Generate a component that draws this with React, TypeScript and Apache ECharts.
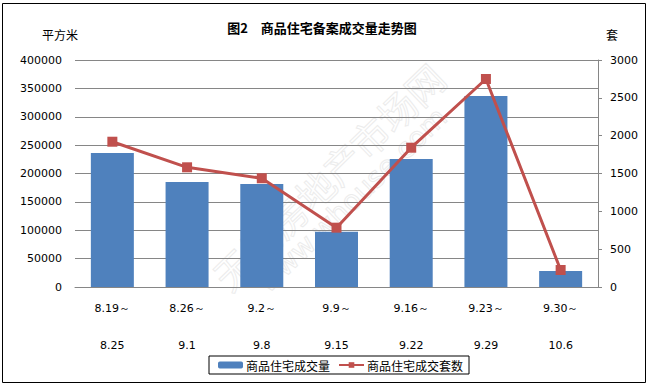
import React, { useEffect, useRef } from "react";
import * as echarts from "echarts";

const periodStarts = ["8.19～", "8.26～", "9.2～", "9.9～", "9.16～", "9.23～", "9.30～"];
const periodEnds = ["8.25", "9.1", "9.8", "9.15", "9.22", "9.29", "10.6"];
const areaValues = [236000, 185000, 181500, 97500, 225500, 336500, 28200];
const unitValues = [1920, 1582, 1437, 784, 1841, 2749, 225];
const leftTicks = { min: 0, max: 400000, interval: 50000 };
const rightTicks = { min: 0, max: 3000, interval: 500 };

const CJK = "'Noto Sans CJK SC', sans-serif";
const NUM = "'DejaVu Sans', sans-serif";

export default function App() {
  const ref = useRef<HTMLDivElement>(null);
  useEffect(() => {
    if (!ref.current) return;
    const chart = echarts.init(ref.current, undefined, { renderer: "svg" });
    const categories = periodStarts.map((s, i) => `${s}\n${periodEnds[i]}`);
    const plain = (v: number) => String(v);
    chart.setOption({
      animation: false,
      backgroundColor: "#ffffff",
      grid: { left: 75, right: 51, top: 60, bottom: 100 },
      graphic: [
        {
          type: "rect",
          shape: { x: 2.5, y: 3.5, width: 643, height: 379 },
          style: { fill: "none", stroke: "#000", lineWidth: 1 },
          silent: true,
        },
        {
          type: "text",
          x: 328,
          y: 176,
          rotation: (44 * Math.PI) / 180,
          style: {
            text: "无锡房地产市场网",
            font: `38px ${CJK}`,
            fill: "rgba(0,0,0,0)",
            stroke: "#ececec",
            lineWidth: 1,
            align: "center",
            verticalAlign: "middle",
          },
          z: -1,
          silent: true,
        },
        {
          type: "text",
          x: 352,
          y: 200,
          rotation: (44 * Math.PI) / 180,
          style: {
            text: "www.whouse.com",
            font: `28px ${NUM}`,
            fill: "rgba(0,0,0,0)",
            stroke: "#ececec",
            lineWidth: 1,
            align: "center",
            verticalAlign: "middle",
          },
          z: -1,
          silent: true,
        },
        {
          type: "text",
          x: 322,
          y: 27,
          style: {
            text: "图2　商品住宅备案成交量走势图",
            font: `bold 13px ${CJK}`,
            fill: "#000",
            align: "center",
            verticalAlign: "middle",
          },
        },
        {
          type: "text",
          x: 60,
          y: 34,
          style: {
            text: "平方米",
            font: `12px ${CJK}`,
            fill: "#000",
            align: "center",
            verticalAlign: "middle",
          },
        },
        {
          type: "text",
          x: 612,
          y: 34,
          style: {
            text: "套",
            font: `12px ${CJK}`,
            fill: "#000",
            align: "center",
            verticalAlign: "middle",
          },
        },
      ],
      legend: {
        left: 209,
        top: 356,
        width: 262,
        height: 20,
        padding: [3, 6, 3, 9],
        itemGap: 8,
        itemWidth: 25,
        itemHeight: 7,
        borderColor: "#000",
        borderWidth: 1,
        textStyle: { fontFamily: CJK, fontSize: 12, color: "#000", padding: [0, 0, 0, -2] },
        data: [{ name: "商品住宅成交量" }, { name: "商品住宅成交套数" }],
      },
      xAxis: {
        type: "category",
        data: categories,
        axisLine: { show: true, lineStyle: { color: "#868686", width: 1 } },
        axisTick: { show: false },
        axisLabel: {
          color: "#000",
          fontFamily: NUM,
          fontSize: 11,
          lineHeight: 37,
          margin: 3,
          interval: 0,
        },
      },
      yAxis: [
        {
          type: "value",
          min: leftTicks.min,
          max: leftTicks.max,
          interval: leftTicks.interval,
          axisLine: { show: false },
          axisTick: { show: false },
          splitLine: { show: true, lineStyle: { color: "#868686", width: 1 } },
          axisLabel: { color: "#000", fontFamily: NUM, fontSize: 11, margin: 13, formatter: plain },
        },
        {
          type: "value",
          min: rightTicks.min,
          max: rightTicks.max,
          interval: rightTicks.interval,
          position: "right",
          axisLine: { show: true, lineStyle: { color: "#868686", width: 1 } },
          axisTick: { show: true, inside: false, length: 4, lineStyle: { color: "#868686" } },
          splitLine: { show: false },
          axisLabel: { color: "#000", fontFamily: NUM, fontSize: 11, margin: 12, formatter: plain },
        },
      ],
      series: [
        {
          name: "商品住宅成交量",
          type: "bar",
          yAxisIndex: 0,
          data: areaValues,
          barWidth: 43,
          itemStyle: { color: "#4F81BD" },
        },
        {
          name: "商品住宅成交套数",
          type: "line",
          yAxisIndex: 1,
          data: unitValues,
          symbol: "rect",
          symbolSize: 10,
          lineStyle: { color: "#C0504D", width: 3 },
          itemStyle: { color: "#C0504D" },
          z: 3,
        },
      ],
    });
    return () => chart.dispose();
  }, []);
  return (
    <div
      ref={ref}
      style={{ position: "absolute", left: 0, top: 0, width: 649, height: 387 }}
    />
  );
}
